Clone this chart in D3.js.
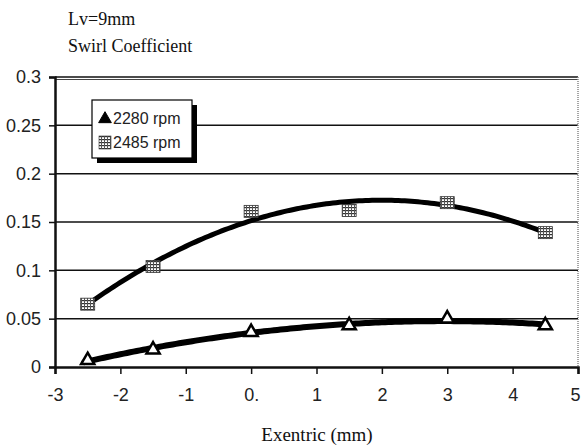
<!DOCTYPE html>
<html>
<head>
<meta charset="utf-8">
<script src="https://cdn.jsdelivr.net/npm/d3@7"></script>
<style>
  body { margin: 0; background: #fff; }
  svg { display: block; }
</style>
</head>
<body>
<svg id="chart" width="581" height="446"></svg>
<script>
// data
const xs = [-2.5, -1.5, 0, 1.5, 3, 4.5];
const rpm2280 = [0.007, 0.018, 0.036, 0.043, 0.050, 0.043];
const rpm2485 = [0.065, 0.104, 0.161, 0.162, 0.170, 0.139];
const seriesNames = ["2280 rpm", "2485 rpm"];
const yTicks = [0, 0.05, 0.1, 0.15, 0.2, 0.25, 0.3];
const yTickLabels = ["0", "0.05", "0.1", "0.15", "0.2", "0.25", "0.3"];
const xTicks = [-3, -2, -1, 0, 1, 2, 3, 4, 5];

const svg = d3.select("#chart");
const margin = { left: 55, right: 3, top: 77, bottom: 79 };
const width = 581 - margin.left - margin.right;
const height = 446 - margin.top - margin.bottom;

const x = d3.scaleLinear().domain([-3, 5]).range([margin.left, margin.left + width]);
const y = d3.scaleLinear().domain([0, 0.3]).range([margin.top + height, margin.top]);

// least squares polynomial (excel style trendline)
const polyFit = (xv, yv, order) => {
    const n = order + 1;
    const A = d3.range(n).map((i) => d3.range(n).map((j) => d3.sum(xv, (d) => Math.pow(d, i + j))));
    const b = d3.range(n).map((i) => d3.sum(xv, (d, k) => Math.pow(d, i) * yv[k]));
    // gaussian elimination
    for (let c = 0; c < n; c++) {
        for (let r = c + 1; r < n; r++) {
            const f = A[r][c] / A[c][c];
            for (let k = c; k < n; k++) A[r][k] -= f * A[c][k];
            b[r] -= f * b[c];
        }
    }
    const coef = new Array(n).fill(0);
    for (let r = n - 1; r >= 0; r--) {
        let s = b[r];
        for (let k = r + 1; k < n; k++) s -= A[r][k] * coef[k];
        coef[r] = s / A[r][r];
    }
    return (v) => d3.sum(coef, (c, i) => c * Math.pow(v, i));
};

// hatch pattern for square markers
const defs = svg.append("defs");
const pat = defs.append("pattern")
    .attr("id", "hatch")
    .attr("width", 3).attr("height", 3)
    .attr("patternUnits", "userSpaceOnUse");
pat.append("rect").attr("width", 3).attr("height", 3).attr("fill", "#fff");
pat.append("rect").attr("width", 3).attr("height", 1.2).attr("fill", "#333");
pat.append("rect").attr("width", 1).attr("height", 3).attr("fill", "#555");

const serif = "Liberation Serif, Times New Roman, serif";
const sans = "Liberation Sans, Arial, sans-serif";

// titles
svg.append("text").attr("x", 68).attr("y", 25)
    .style("font-family", serif)
    .style("font-size", "18px").attr("fill", "#111").text("Lv=9mm");
svg.append("text").attr("x", 68).attr("y", 52)
    .style("font-family", serif)
    .style("font-size", "18px").attr("fill", "#111").text("Swirl Coefficient");

// gridlines
svg.append("g")
    .selectAll("line")
    .data(yTicks.filter((d) => d > 0))
    .join("line")
    .attr("x1", margin.left).attr("x2", margin.left + width)
    .attr("y1", (d) => y(d)).attr("y2", (d) => y(d))
    .attr("stroke", "#111").attr("stroke-width", 1.5);
// double line on top
svg.append("line")
    .attr("x1", margin.left).attr("x2", margin.left + width)
    .attr("y1", y(0.3) + 2.5).attr("y2", y(0.3) + 2.5)
    .attr("stroke", "#444").attr("stroke-width", 1);

// right border (dotted)
svg.append("line")
    .attr("x1", margin.left + width).attr("x2", margin.left + width)
    .attr("y1", y(0.3)).attr("y2", y(0))
    .attr("stroke", "#888").attr("stroke-width", 1.5)
    .attr("stroke-dasharray", "1,1");

// y axis
const yAxis = d3.axisLeft(y)
    .tickValues(yTicks)
    .tickFormat((d, i) => yTickLabels[i])
    .tickSize(6).tickPadding(8);
const gy = svg.append("g").attr("transform", `translate(${margin.left},0)`).call(yAxis);
gy.select(".domain").attr("stroke", "#111").attr("stroke-width", 2.5);
gy.selectAll(".tick line").attr("stroke", "#111").attr("stroke-width", 1.5);
gy.selectAll("text")
    .style("font-family", sans)
    .style("font-size", "18px").attr("fill", "#222");

// x axis
const xAxis = d3.axisBottom(x)
    .tickValues(xTicks)
    .tickFormat((d) => (d === 0 ? "0." : d))
    .tickSize(7).tickPadding(14);
const gx = svg.append("g").attr("transform", `translate(0,${y(0)})`).call(xAxis);
gx.select(".domain").attr("stroke", "#111").attr("stroke-width", 2.5);
gx.selectAll(".tick line").attr("stroke", "#111").attr("stroke-width", 1.5);
gx.selectAll("text")
    .style("font-family", sans)
    .style("font-size", "18px").attr("fill", "#222")
    .attr("dx", (d) => (d === 5 ? -3 : 0));

svg.append("text")
    .attr("x", 317).attr("y", 441)
    .attr("text-anchor", "middle")
    .style("font-family", serif)
    .style("font-size", "19px").attr("fill", "#111")
    .text("Exentric (mm)");

// trendlines
const line = d3.line().x((d) => x(d[0])).y((d) => y(d[1])).curve(d3.curveLinear);
const trendSeries = [rpm2280, rpm2485];
trendSeries.forEach((vals, i) => {
    const f = polyFit(xs, vals, 2);
    const pts = d3.range(-2.55, 4.5001, 0.05).map((v) => [v, f(v)]);
    svg.append("path")
        .datum(pts)
        .attr("d", line)
        .attr("fill", "none")
        .attr("stroke", "#000")
        .attr("stroke-width", i === 0 ? 6 : 5)
        .attr("stroke-linecap", "round");
});

// markers
const triPath = d3.symbol().type(d3.symbolTriangle).size(75);
svg.append("g")
    .selectAll("path")
    .data(xs.map((d, i) => [d, rpm2280[i]]))
    .join("path")
    .attr("transform", (d) => `translate(${x(d[0])},${y(d[1])})`)
    .attr("d", triPath)
    .attr("fill", "#fff")
    .attr("stroke", "#000")
    .attr("stroke-width", 2.5);

svg.append("g")
    .selectAll("rect")
    .data(xs.map((d, i) => [d, rpm2485[i]]))
    .join("rect")
    .attr("x", (d) => x(d[0]) - 7)
    .attr("y", (d) => y(d[1]) - 6)
    .attr("width", 14).attr("height", 12)
    .attr("fill", "url(#hatch)")
    .attr("stroke", "#333").attr("stroke-width", 0.8);

// legend
const lg = svg.append("g").attr("transform", "translate(92,100)");
lg.append("rect").attr("x", 5).attr("y", 5).attr("width", 100).attr("height", 58).attr("fill", "#000");
lg.append("rect").attr("x", 0).attr("y", 0).attr("width", 100).attr("height", 58)
    .attr("fill", "#fff").attr("stroke", "#000").attr("stroke-width", 1.2);
lg.append("path")
    .attr("transform", "translate(13,19)")
    .attr("d", d3.symbol().type(d3.symbolTriangle).size(70))
    .attr("fill", "#000").attr("stroke", "#000").attr("stroke-width", 1);
lg.append("rect").attr("x", 7).attr("y", 36).attr("width", 12).attr("height", 13)
    .attr("fill", "url(#hatch)").attr("stroke", "#333").attr("stroke-width", 0.6);
lg.selectAll("text.leg")
    .data(seriesNames)
    .join("text")
    .attr("class", "leg")
    .attr("x", 21)
    .attr("y", (d, i) => 24 + i * 24)
    .style("font-family", sans)
    .style("font-size", "16px").attr("fill", "#222")
    .text((d) => d);
</script>
</body>
</html>
